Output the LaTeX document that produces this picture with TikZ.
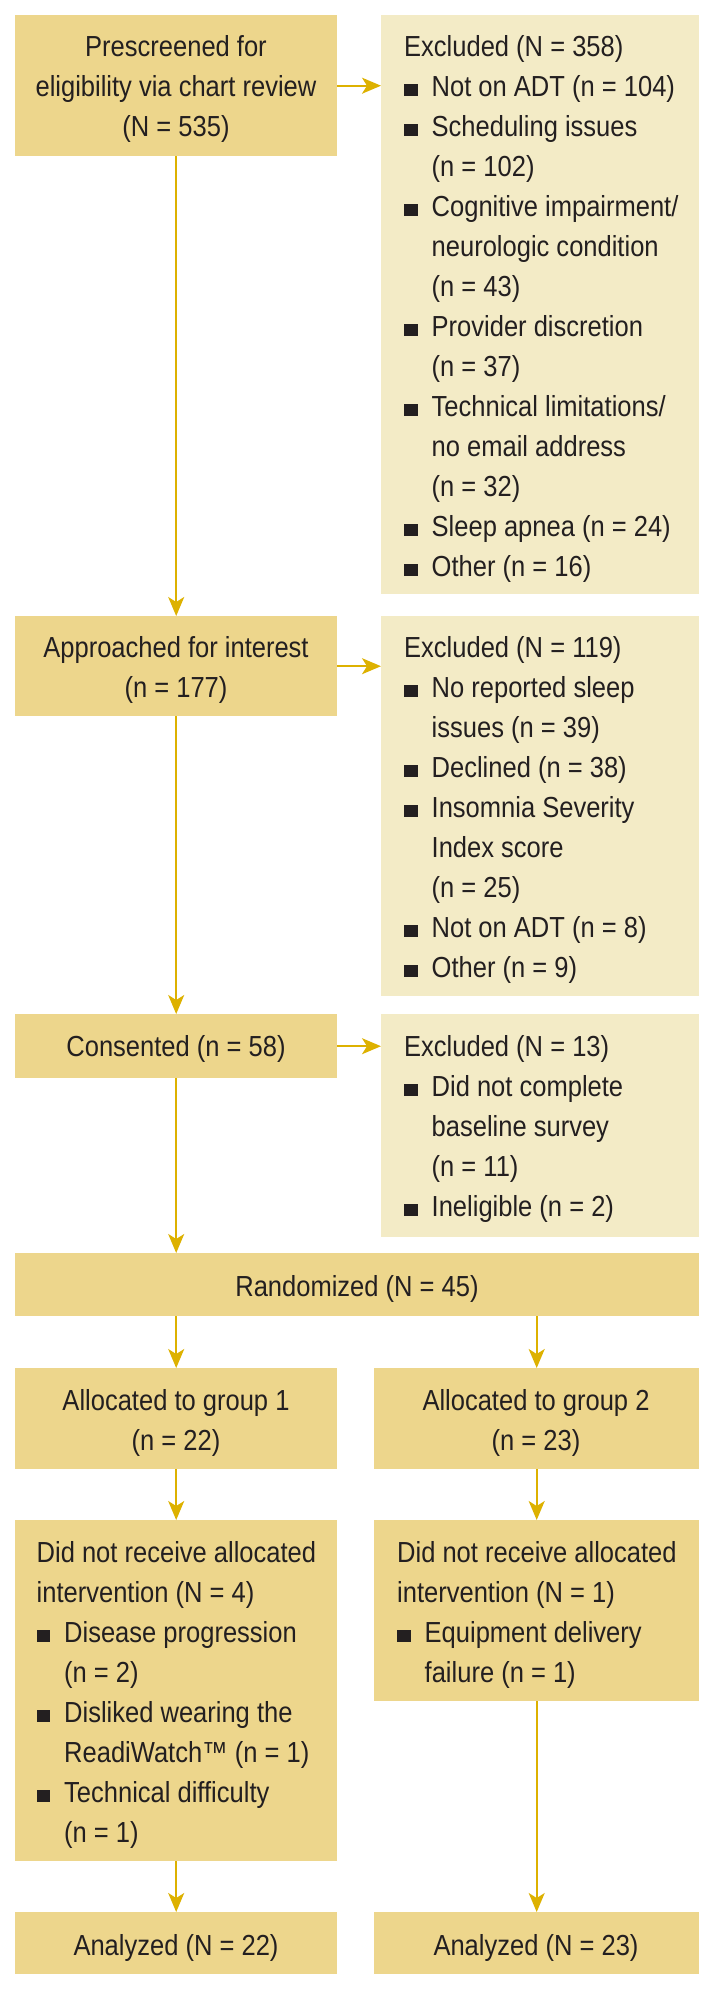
\documentclass[tikz,border=0pt]{standalone}
\usepackage{fontspec}
\setmainfont{Liberation Sans}[FakeStretch=0.88]
\usetikzlibrary{arrows.meta}
\definecolor{boxdark}{HTML}{EDD68C}
\definecolor{boxlight}{HTML}{F3EBC6}
\definecolor{arrowgold}{HTML}{DDB100}
\definecolor{ink}{HTML}{231F20}
\newcommand{\sqb}{\makebox[27.5bp][l]{\raisebox{0.5bp}{\rule{13.5bp}{12bp}}}}
\newcommand{\ind}{\hspace*{27.5bp}}
\begin{document}
\begin{tikzpicture}[x=1bp,y=-1bp,
  mainbox/.style={fill=boxdark, inner sep=0pt, anchor=north west},
  exclbox/.style={fill=boxlight, inner sep=0pt, anchor=north west},
  txt/.style={text=ink, inner sep=0pt, font=\fontsize{29bp}{40bp}\selectfont},
  ctxt/.style={txt, align=center, anchor=base},
  ltxt/.style={txt, align=left, anchor=base west},
  conn/.style={draw=arrowgold, line width=1.7bp, -{Stealth[length=19bp,width=16bp,inset=5bp]}}]
\useasboundingbox (0,0) rectangle (712,1990);

% boxes
\node[mainbox, minimum width=322bp, minimum height=141bp] (A) at (15,15) {};
\node[exclbox, minimum width=318bp, minimum height=579bp] (X1) at (381,15) {};
\node[mainbox, minimum width=322bp, minimum height=100bp] (B) at (15,616) {};
\node[exclbox, minimum width=318bp, minimum height=380bp] (X2) at (381,616) {};
\node[mainbox, minimum width=322bp, minimum height=64bp] (C) at (15,1014) {};
\node[exclbox, minimum width=318bp, minimum height=223bp] (X3) at (381,1014) {};
\node[mainbox, minimum width=684bp, minimum height=63bp] (R) at (15,1253) {};
\node[mainbox, minimum width=322bp, minimum height=101bp] (G1) at (15,1368) {};
\node[mainbox, minimum width=325bp, minimum height=101bp] (G2) at (374,1368) {};
\node[mainbox, minimum width=322bp, minimum height=341bp] (D1) at (15,1520) {};
\node[mainbox, minimum width=325bp, minimum height=181bp] (D2) at (374,1520) {};
\node[mainbox, minimum width=322bp, minimum height=62bp] (N1) at (15,1912) {};
\node[mainbox, minimum width=325bp, minimum height=62bp] (N2) at (374,1912) {};

% texts (anchored at the baseline of the last line)
\node[ctxt] (tA) at (176,136) {Prescreened for\\eligibility via chart review\\(N = 535)};
\node[ltxt] (tX1) at (404,576) {Excluded (N = 358)\\
\sqb Not on ADT (n = 104)\\
\sqb Scheduling issues\\
\ind(n = 102)\\
\sqb Cognitive impairment/\\
\ind neurologic condition\\
\ind(n = 43)\\
\sqb Provider discretion\\
\ind(n = 37)\\
\sqb Technical limitations/\\
\ind no email address\\
\ind(n = 32)\\
\sqb Sleep apnea (n = 24)\\
\sqb Other (n = 16)};
\node[ctxt] (tB) at (176,697) {Approached for interest\\(n = 177)};
\node[ltxt] (tX2) at (404,977) {Excluded (N = 119)\\
\sqb No reported sleep\\
\ind issues (n = 39)\\
\sqb Declined (n = 38)\\
\sqb Insomnia Severity\\
\ind Index score\\
\ind(n = 25)\\
\sqb Not on ADT (n = 8)\\
\sqb Other (n = 9)};
\node[ctxt] (tC) at (176,1056) {Consented (n = 58)};
\node[ltxt] (tX3) at (404,1216) {Excluded (N = 13)\\
\sqb Did not complete\\
\ind baseline survey\\
\ind(n = 11)\\
\sqb Ineligible (n = 2)};
\node[ctxt] (tR) at (357,1296) {Randomized (N = 45)};
\node[ctxt] (tG1) at (176,1450) {Allocated to group 1\\(n = 22)};
\node[ctxt] (tG2) at (536,1450) {Allocated to group 2\\(n = 23)};
\node[ltxt] (tD1) at (36.5,1842) {Did not receive allocated\\
intervention (N = 4)\\
\sqb Disease progression\\
\ind(n = 2)\\
\sqb Disliked wearing the\\
\ind ReadiWatch™ (n = 1)\\
\sqb Technical difficulty\\
\ind(n = 1)};
\node[ltxt] (tD2) at (397,1682) {Did not receive allocated\\
intervention (N = 1)\\
\sqb Equipment delivery\\
\ind failure (n = 1)};
\node[ctxt] (tN1) at (176,1955) {Analyzed (N = 22)};
\node[ctxt] (tN2) at (536,1955) {Analyzed (N = 23)};

% connectors
\draw[conn] (A.east) -- (A.east -| X1.west);
\draw[conn] (B.east) -- (B.east -| X2.west);
\draw[conn] (C.east) -- (C.east -| X3.west);
\draw[conn] (A.south) -- (B.north);
\draw[conn] (B.south) -- (C.north);
\draw[conn] (C.south) -- (C.south |- R.north);
\draw[conn] (G1.north |- R.south) -- (G1.north);
\draw[conn] (G2.north |- R.south) -- (G2.north);
\draw[conn] (G1.south) -- (D1.north);
\draw[conn] (G2.south) -- (D2.north);
\draw[conn] (D1.south) -- (N1.north);
\draw[conn] (D2.south) -- (N2.north);
\end{tikzpicture}
\end{document}
